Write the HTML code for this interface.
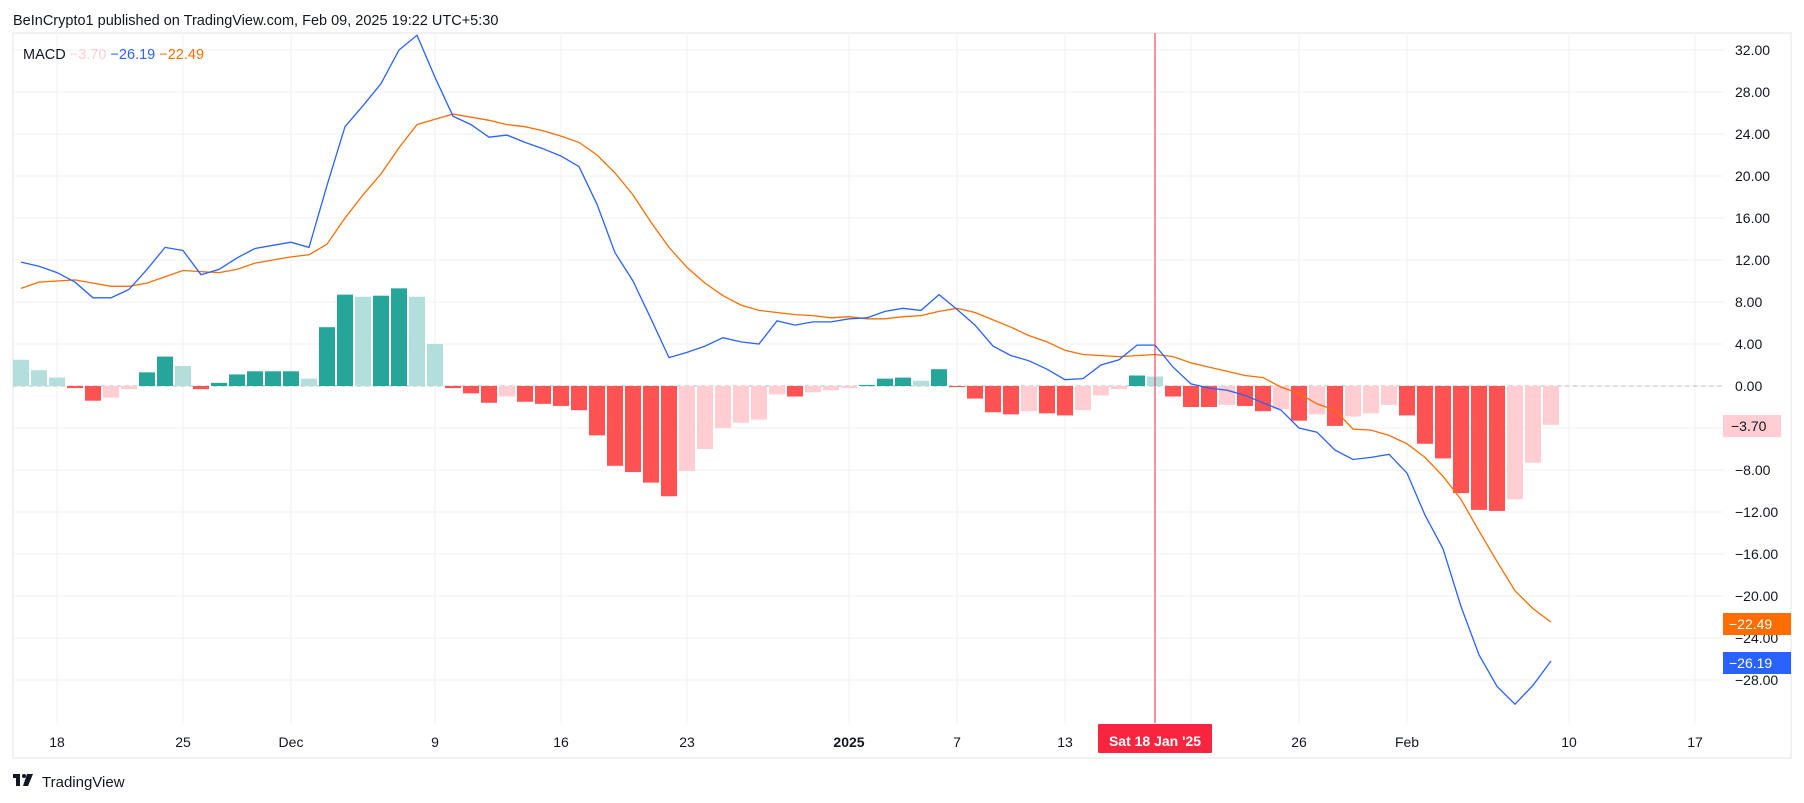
<!DOCTYPE html>
<html><head><meta charset="utf-8"><style>
html,body{margin:0;padding:0;background:#fff;}
svg{display:block;font-family:"Liberation Sans",sans-serif;}
</style></head><body>
<svg id="c" width="1804" height="803" xmlns="http://www.w3.org/2000/svg">
<rect width="1804" height="803" fill="#fff"/>
<text x="13" y="25" font-size="14.5" fill="#131722">BeInCrypto1 published on TradingView.com, Feb 09, 2025 19:22 UTC+5:30</text>
<rect x="13" y="33" width="1778" height="725" fill="none" stroke="#f0f1f3" stroke-width="2"/>
<g id="grid"></g>
<g id="bars"></g>
<g id="lines"></g>
<line x1="1155" y1="33" x2="1155" y2="723" stroke="#f7253e" stroke-width="1"/>
<g id="axis" font-size="14" fill="#131722"></g>
<text x="23" y="59" font-size="14.5" fill="#131722">MACD <tspan fill="#ffcdd2">−3.70</tspan> <tspan fill="#2962ff">−26.19</tspan> <tspan fill="#ff6d00">−22.49</tspan></text>
<rect x="1098" y="724" width="114" height="29" rx="1" fill="#f7253e"/>
<text x="1155" y="746" font-size="14" font-weight="bold" fill="#fff" text-anchor="middle">Sat 18 Jan '25</text>
<rect x="1723" y="415" width="58" height="22" fill="#ffcdd2"/>
<text x="1731" y="431" font-size="14" fill="#131722">−3.70</text>
<rect x="1723" y="613" width="68" height="22" fill="#ff6d00"/>
<text x="1729" y="629" font-size="14" fill="#fff">−22.49</text>
<rect x="1723" y="652" width="68" height="22" fill="#2962ff"/>
<text x="1729" y="668" font-size="14" fill="#fff">−26.19</text>
<g transform="translate(13,774)"><rect x="0" y="0" width="7" height="4" fill="#131722"/><rect x="3" y="0" width="4" height="12" fill="#131722"/><circle cx="11" cy="2" r="2" fill="#131722"/><polygon points="14,0 20,0 15,12 10,12" fill="#131722"/></g>
<text x="42" y="787" font-size="15" fill="#131722">TradingView</text>
</svg>
<script>
var NS="http://www.w3.org/2000/svg";
function el(t,a,p){var e=document.createElementNS(NS,t);for(var k in a)e.setAttribute(k,a[k]);document.getElementById(p).appendChild(e);return e;}
function X(d){return 291+18*d;}
function Y(v){return 386-10.5*v;}
for(var v=-28;v<=32;v+=4){el('line',{x1:13,x2:1723,y1:Y(v),y2:Y(v),stroke:'#f0f1f3','stroke-width':1},'grid');}
var xt=[[-13,'18'],[-6,'25'],[0,'Dec'],[8,'9'],[15,'16'],[22,'23'],[31,'2025'],[37,'7'],[43,'13'],[50,''],[56,'26'],[62,'Feb'],[71,'10'],[78,'17']];
xt.forEach(function(t){el('line',{x1:X(t[0]),x2:X(t[0]),y1:33,y2:723,stroke:'#f0f1f3','stroke-width':1},'grid');
if(!t[1])return;
var tx=el('text',{x:X(t[0]),y:747,'text-anchor':'middle'},'axis');tx.textContent=t[1];if(t[1]=='2025')tx.setAttribute('font-weight','bold');});
for(var v=-28;v<=32;v+=4){var s=(v<0?'−':'')+Math.abs(v).toFixed(2);
 if(v==-4||v==-24)continue; var tx=el('text',{x:1735,y:Y(v)+5},'axis');tx.textContent=s;}
var tx=el('text',{x:1735,y:Y(-24)+5},'axis');tx.textContent='−24.00';
el('line',{x1:13,x2:1723,y1:386,y2:386,stroke:'#b2b5be','stroke-dasharray':'4,4','stroke-width':1},'grid');
var m=[11.8,11.4,10.8,9.9,8.4,8.4,9.2,11.1,13.2,12.9,10.6,11.1,12.2,13.1,13.4,13.7,13.2,19.1,24.7,26.7,28.8,32.0,33.4,29.4,25.7,24.9,23.7,
23.9,23.2,22.6,21.9,20.9,17.3,12.7,10.0,6.4,2.7,3.2,3.8,4.6,4.2,4.0,6.2,5.8,6.1,6.1,
6.4,6.5,7.1,7.4,7.2,8.7,7.3,5.8,3.8,2.9,2.4,1.6,0.6,0.7,2.0,2.5,3.9,3.9,1.8,0.2,-0.2,-0.4,-0.9,-1.6,-2.3,-4.0,-4.4,-6.1,-7.0,-6.8,-6.5,
-8.3,-12.3,-15.5,-21.0,-25.6,-28.6,-30.3,-28.5,-26.19];
var h=[2.5,1.5,0.8,-0.2,-1.4,-1.1,-0.3,1.3,2.8,1.9,-0.3,0.3,1.1,1.4,1.4,1.4,0.7,5.6,8.7,8.5,8.6,9.3,8.5,4.0,-0.2,-0.7,-1.6,
-1.0,-1.5,-1.7,-1.9,-2.3,-4.7,-7.6,-8.2,-9.2,-10.5,-8.1,-6,-4,-3.5,-3.2,-0.8,-1.0,-0.6,-0.4,
-0.2,0.1,0.7,0.8,0.5,1.6,-0.1,-1.2,-2.5,-2.7,-2.4,-2.6,-2.8,-2.3,-0.9,-0.3,1.0,0.9,-1.0,-2.0,-2.0,-1.8,-1.9,-2.4,-2.2,-3.3,-2.7,-3.8,-2.9,-2.6,-1.8,
-2.8,-5.5,-6.9,-10.2,-11.8,-11.9,-10.8,-7.3,-3.7];
var n=Math.min(m.length,h.length);
var pb='',po='';
for(var i=0;i<n;i++){var d=i-15,x=X(d),hv=h[i],pv=i>0?h[i-1]:3.0;
 var col; if(hv>=0) col=(hv>=pv)?'#26a69a':'#b2dfdb'; else col=(hv<=pv)?'#ff5252':'#ffcdd2';
 var y0=Y(0),y1=Y(hv);var bx=Math.max(13,x-8);var bw=x+8-bx;
 el('rect',{x:bx,y:Math.min(y0,y1),width:bw,height:Math.max(1,Math.abs(y1-y0)),fill:col},'bars');
 var s=m[i]-hv;
 pb+=(i?'L':'M')+Math.max(13,x)+','+Y(m[i]).toFixed(1);
 po+=(i?'L':'M')+Math.max(13,x)+','+Y(s).toFixed(1);}
el('path',{d:po,fill:'none',stroke:'#ff6d00','stroke-width':1.3},'lines');
el('path',{d:pb,fill:'none',stroke:'#2962ff','stroke-width':1.3},'lines');
</script>
</body></html>
